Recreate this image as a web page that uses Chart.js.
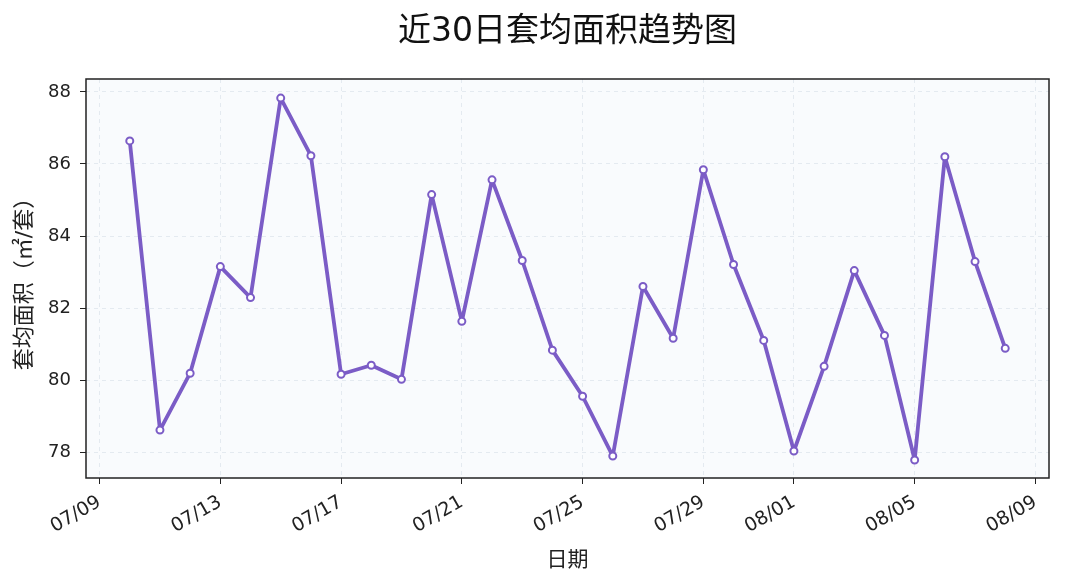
<!DOCTYPE html>
<html lang="zh">
<head>
<meta charset="UTF-8">
<title>近30日套均面积趋势图</title>
<style>
  body { margin: 0; background: #fff; }
  #wrap { width: 1065px; height: 588px; }
</style>
</head>
<body>
<div id="wrap"><canvas id="chart"></canvas></div>
<script src="https://cdn.jsdelivr.net/npm/chart.js"></script>
<script>
const dates = ['07/10','07/11','07/12','07/13','07/14','07/15','07/16','07/17','07/18','07/19',
               '07/20','07/21','07/22','07/23','07/24','07/25','07/26','07/27','07/28','07/29',
               '07/30','07/31','08/01','08/02','08/03','08/04','08/05','08/06','08/07','08/08'];
const avgArea = [86.64, 78.61, 80.19, 83.15, 82.29, 87.83, 86.23, 80.16, 80.41, 80.02,
                 85.15, 81.63, 85.56, 83.32, 80.83, 79.55, 77.89, 82.60, 81.16, 85.84,
                 83.21, 81.10, 78.03, 80.38, 83.04, 81.24, 77.78, 86.20, 83.29, 80.88];
const xTickLabels = ['07/09','07/13','07/17','07/21','07/25','07/29','08/01','08/05','08/09'];
const yTicks = [78, 80, 82, 84, 86, 88];

const FONT = '"DejaVu Sans", "Noto Sans CJK SC", sans-serif';

// day number counted from 07/09
function dayNum(s) {
  const [m, d] = s.split('/').map(Number);
  return (Date.UTC(2024, m - 1, d) - Date.UTC(2024, 6, 9)) / 86400000;
}
const labelByDay = {};
xTickLabels.forEach(l => { labelByDay[dayNum(l)] = l; });

const points = dates.map((d, i) => ({ x: dayNum(d), y: avgArea[i] }));

const frame = {
  id: 'frame',
  beforeDraw(chart) {
    const { ctx, chartArea: a } = chart;
    ctx.save();
    ctx.fillStyle = '#f9fbfd';
    ctx.fillRect(a.left, a.top, a.right - a.left, a.bottom - a.top);
    ctx.restore();
  },
  afterDraw(chart) {
    const { ctx, chartArea: a } = chart;
    ctx.save();
    ctx.strokeStyle = '#222';
    ctx.lineWidth = 1.5;
    ctx.strokeRect(a.left, a.top, a.right - a.left, a.bottom - a.top);
    ctx.fillStyle = '#111';
    ctx.font = '33px ' + FONT;
    ctx.textAlign = 'center';
    ctx.textBaseline = 'middle';
    ctx.fillText('近30日套均面积趋势图', (a.left + a.right) / 2, 32);
    ctx.restore();
  }
};

new Chart(document.getElementById('chart'), {
  type: 'line',
  data: {
    datasets: [{
      data: points,
      borderColor: '#7b5cc6',
      borderWidth: 3.8,
      borderJoinStyle: 'round',
      borderCapStyle: 'round',
      pointRadius: 3.5,
      pointBorderWidth: 2,
      pointBackgroundColor: '#fff',
      pointBorderColor: '#7b5cc6',
      tension: 0
    }]
  },
  options: {
    responsive: true,
    maintainAspectRatio: false,
    animation: false,
    layout: { padding: { top: 79, right: 16, left: 0, bottom: 0 } },
    plugins: { legend: { display: false }, tooltip: { enabled: false } },
    scales: {
      x: {
        type: 'linear',
        min: -0.45,
        max: 31.45,
        afterBuildTicks: s => { s.ticks = xTickLabels.map(l => ({ value: dayNum(l) })); },
        afterFit: s => { s.height = 110; },
        ticks: {
          color: '#222',
          font: { family: FONT, size: 19 },
          maxRotation: 30,
          minRotation: 30,
          padding: 7,
          callback: v => labelByDay[v]
        },
        grid: { color: '#e4eaf0', tickColor: '#222', tickLength: 6, tickBorderDash: [], lineWidth: 1 },
        border: { display: false, dash: [4, 4] },
        title: {
          display: true,
          text: '日期',
          color: '#222',
          font: { family: FONT, size: 21 },
          padding: { top: 4, bottom: 15 }
        }
      },
      y: {
        min: 77.28,
        max: 88.36,
        afterBuildTicks: s => { s.ticks = yTicks.map(v => ({ value: v })); },
        afterFit: s => { s.width = 86; },
        ticks: {
          color: '#222',
          font: { family: FONT, size: 18 },
          padding: 9
        },
        grid: { color: '#e4eaf0', tickColor: '#222', tickLength: 6, tickBorderDash: [], lineWidth: 1 },
        border: { display: false, dash: [4, 4] },
        title: {
          display: true,
          text: '套均面积（㎡/套）',
          color: '#222',
          font: { family: FONT, size: 22 },
          padding: { top: 12, bottom: 4 }
        }
      }
    }
  },
  plugins: [frame]
});
</script>
</body>
</html>
